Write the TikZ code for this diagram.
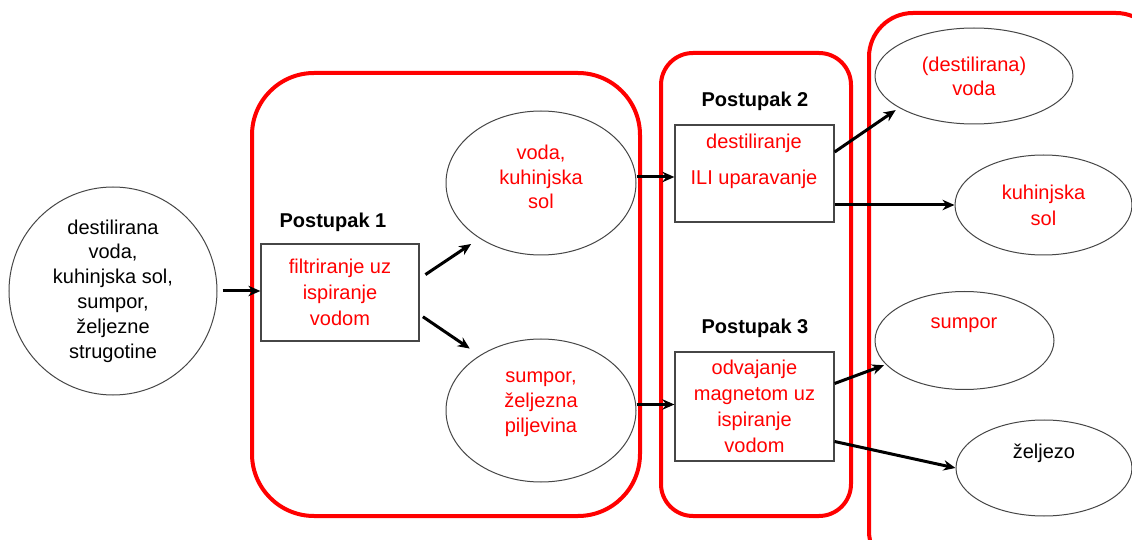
\documentclass[tikz,border=0pt]{standalone}
\usepackage{fontspec}
\setmainfont{Liberation Sans}
\usetikzlibrary{shapes.geometric,arrows.meta}
\definecolor{pptred}{RGB}{255,0,0}
\definecolor{edgegray}{RGB}{70,70,70}
\begin{document}
\begin{tikzpicture}[x=0.5pt,y=-0.5pt,
  every node/.style={font=\fontsize{10}{12.4}\selectfont, inner sep=0pt, align=center},
  group/.style={draw=pptred, line width=2pt},
  stepbox/.style={draw=edgegray, line width=0.6pt, rectangle, text=pptred, font=\fontsize{10}{13}\selectfont},
  oval/.style={draw=edgegray, line width=0.5pt, ellipse},
  title/.style={font=\fontsize{10}{12}\selectfont\bfseries},
  arr/.style={line width=1.5pt, -{Stealth[length=6pt,width=5.2pt]}},
  redtxt/.style={text=pptred}]
\useasboundingbox (0,0) rectangle (1132,540);
\clip (0,0) rectangle (1132,540);
\fill[white] (0,0) rectangle (1132,540);

% red group frames
\draw[group, rounded corners=31pt] (252,73) rectangle (640,516);
\draw[group, rounded corners=16pt] (661,53) rectangle (851,516);
\draw[group, rounded corners=22pt] (869,13) rectangle (1160,575);

% source mixture
\node[circle, draw=edgegray, line width=0.5pt, minimum size=104pt] (src) at (113,291)
  {destilirana\\voda,\\kuhinjska sol,\\sumpor,\\željezne\\strugotine};

% Postupak 1
\node[title] (p1) at (333,222) {Postupak 1};
\node[stepbox, minimum width=79pt, minimum height=48.5pt] (b1) at (340,292.5)
  {filtriranje uz\\ispiranje\\vodom};

\node[oval, minimum width=95pt, minimum height=72pt] (a) at (541,183) {};
\node[redtxt] (at) at (541,177) {voda,\\kuhinjska\\sol};
\node[oval, minimum width=95pt, minimum height=71.5pt] (b) at (541,410.5) {};
\node[redtxt] (bt) at (541,404) {sumpor,\\željezna\\piljevina};

% Postupak 2
\node[title] (p2) at (755,101) {Postupak 2};
\node[stepbox, minimum width=79.5pt, minimum height=48.5pt] (b2) at (754.5,173.5) {};
\node[redtxt] (b2a) at (754,143) {destiliranje};
\node[redtxt] (b2b) at (754,179) {ILI uparavanje};

% Postupak 3
\node[title] (p3) at (755,328) {Postupak 3};
\node[stepbox, minimum width=79.5pt, minimum height=54.5pt] (b3) at (754.5,406.5)
  {odvajanje\\magnetom uz\\ispiranje\\vodom};

% products
\node[oval, redtxt, font=\fontsize{10}{12}\selectfont, minimum width=99pt, minimum height=48pt] (c) at (974,76) {(destilirana)\\voda};
\node[oval, redtxt, font=\fontsize{10}{13}\selectfont, minimum width=88.5pt, minimum height=50pt] (d) at (1043.5,205) {kuhinjska\\sol};
\node[oval, minimum width=89.5pt, minimum height=49pt] (e) at (964.5,340.5) {};
\node[redtxt] (et) at (964,325) {sumpor};
\node[oval, minimum width=88pt, minimum height=48pt] (f) at (1044,468) {};
\node (ft) at (1044,453) {željezo};

% connectors
\draw[arr, shorten <=2.5pt] (src.east) -- (src.east -| b1.west);
\draw[arr, shorten <=3.5pt, shorten >=5pt] ([yshift=7pt]b1.east) -- (a.222);
\draw[arr, shorten <=2pt, shorten >=6pt] ([yshift=-11pt]b1.east) -- (b.138);
\draw[arr] ([yshift=3pt]a.east) -- ([yshift=3pt]a.east -| b2.west);
\draw[arr] ([yshift=3pt]b.east) -- ([yshift=3pt]b.east -| b3.west);
\draw[arr, shorten >=2pt] ([yshift=10.75pt]b2.east) -- (c.203);
\draw[arr] (d.west -| b2.east) -- (d.west);
\draw[arr, shorten >=1pt] ([yshift=11.5pt]b3.east) -- (e.197);
\draw[arr] ([yshift=-17.5pt]b3.east) -- (f.west);
\end{tikzpicture}
\end{document}
